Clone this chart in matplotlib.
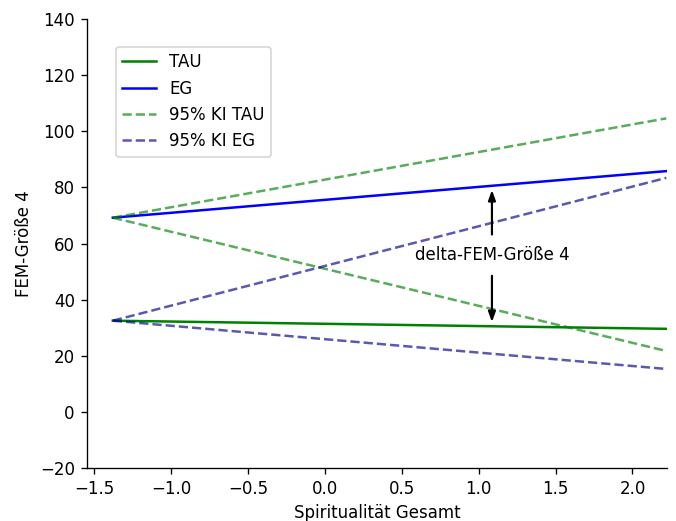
import numpy as np
import matplotlib
matplotlib.use("Agg")
import matplotlib.pyplot as plt

# Spirituality range and model predictions at both ends
x_range = [-1.38, 2.22]
tau_fit = [32.5, 29.6]
eg_fit = [69.2, 85.8]
tau_ci_upper = [69.2, 104.6]
tau_ci_lower = [69.2, 21.7]
eg_ci_upper = [32.5, 83.4]
eg_ci_lower = [32.5, 15.3]

# position of the difference marker
delta_x = 1.086
delta_label = "delta-FEM-Größe 4"

DPI = 120
fig = plt.figure(figsize=(676 / DPI, 521 / DPI), dpi=DPI)
ax = fig.add_axes([0.128, 0.1017, 0.859, 0.8618])

ax.plot(x_range, tau_fit, color="green", lw=1.5, label="TAU")
ax.plot(x_range, eg_fit, color="blue", lw=1.5, label="EG")
ax.plot(x_range, tau_ci_upper, color="green", ls="--", alpha=0.65, lw=1.5, label="95% KI TAU")
ax.plot(x_range, tau_ci_lower, color="green", ls="--", alpha=0.65, lw=1.5)
ax.plot(x_range, eg_ci_upper, color="darkblue", ls="--", alpha=0.65, lw=1.5, label="95% KI EG")
ax.plot(x_range, eg_ci_lower, color="darkblue", ls="--", alpha=0.65, lw=1.5)

eg_at = np.interp(delta_x, x_range, eg_fit)
tau_at = np.interp(delta_x, x_range, tau_fit)

arrow_kw = dict(arrowstyle="-|>,head_length=0.5,head_width=0.18", color="black",
                lw=1.3, shrinkA=0, shrinkB=2.5)
ax.annotate("", xy=(delta_x, eg_at), xytext=(delta_x, 63.2), arrowprops=arrow_kw)
ax.annotate("", xy=(delta_x, tau_at), xytext=(delta_x, 48.5), arrowprops=arrow_kw)
ax.text(delta_x, 56, delta_label, ha="center", va="center", fontsize=10)

ax.set_xlim(-1.551, 2.226)
ax.set_ylim(-20, 140)
ax.set_xticks(np.arange(-1.5, 2.01, 0.5))
ax.set_yticks(np.arange(-20, 141, 20))
ax.spines["top"].set_visible(False)
ax.spines["right"].set_visible(False)
ax.set_xlabel("Spiritualität Gesamt")
ax.set_ylabel("FEM-Größe 4")

ax.legend(loc="upper left", bbox_to_anchor=(0.036, 0.957))

fig.savefig("out.png", dpi=DPI)
